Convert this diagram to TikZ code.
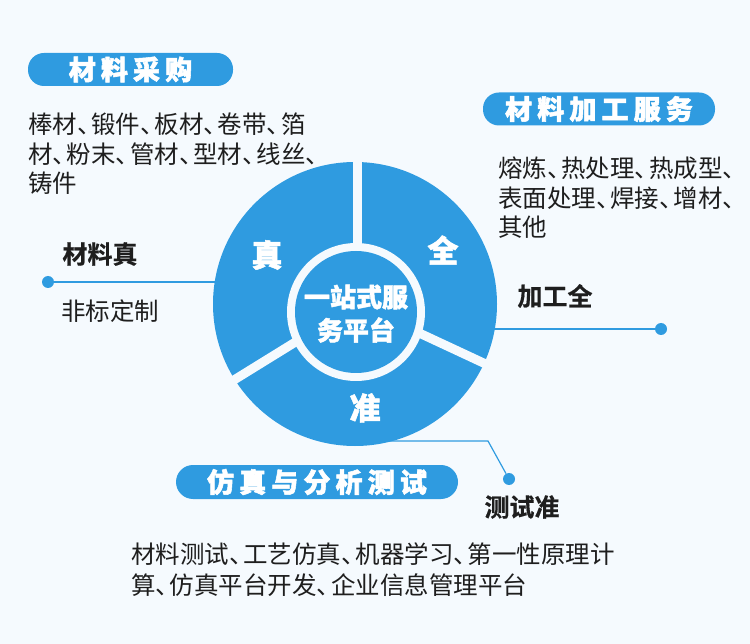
\documentclass[tikz,border=0pt]{standalone}
\usepackage{fontspec}
\newfontfamily\cjk{Noto Sans CJK SC}
\newfontfamily\cjkb[FakeBold=0.6]{Noto Sans CJK SC Bold}
\newfontfamily\cjkk[LetterSpace=19,FakeBold=2]{Noto Sans CJK SC Black}
\newfontfamily\cjkh[FakeBold=1.6]{Noto Sans CJK SC Black}
\definecolor{mblue}{HTML}{2F9BE0}
\definecolor{bgc}{HTML}{F5FAFE}
\definecolor{ink}{HTML}{1E1E1E}
\newcommand\dun{\makebox[0.58em][l]{、}}
\begin{document}
\begin{tikzpicture}[x=1pt,y=-1pt,
 body/.style={anchor=west,inner sep=0pt,font=\cjk\fontsize{24.5}{24.5}\selectfont,text=ink},
 lab/.style={inner sep=0pt,font=\cjkb\fontsize{25}{25}\selectfont,text=ink},
 pill/.style={fill=mblue,rounded corners=16pt,text=white,font=\cjkk\fontsize{27}{27}\selectfont,inner sep=0pt,minimum height=33pt},
 seg/.style={text=white,font=\cjkh\fontsize{31}{31}\selectfont,inner sep=0pt},
 ctr/.style={text=white,font=\cjkh\fontsize{26}{26}\selectfont,inner sep=0pt},
 dot/.style={circle,fill=mblue,inner sep=0pt,minimum size=12pt},
 conn/.style={draw=mblue,line width=1.2pt}]
\fill[bgc] (0,0) rectangle (750,644);
\useasboundingbox (0,0) rectangle (750,644);
\coordinate (c) at (355,304);
\coordinate (ci) at (356,312);
% dots and connectors
\node[dot] (dotL) at (48,282) {};
\node[dot] (dotR) at (661,329) {};
\node[dot] (dotB) at (509,479) {};
\coordinate (kB) at (488,441);
\draw[conn] (dotL) -- (dotL -| c);
\draw[conn] (dotR) -- (dotR -| c);
\draw[conn] (kB -| c) -- (kB) -- (dotB);
% ring
\node[circle,fill=mblue,minimum size=284pt,inner sep=0pt] (ring) at (c) {};
\begin{scope}
\clip (c) circle[radius=143];
\foreach \a in {-90,25,148.3} \draw[bgc,line width=9pt] (357,304) -- ++(\a:160);
\end{scope}
\node[circle,fill=bgc,minimum size=138pt,inner sep=0pt] (hub) at (ci) {};
\node[circle,fill=mblue,minimum size=122pt,inner sep=0pt] (core) at (ci) {};
\node[seg] (zhen) at (267,255) {真};
\node[seg] (quan) at (443,250) {全};
\node[seg] (zhun) at (365,408) {准};
\node[ctr] (c1) at (356,297) {一站式服};
\node[ctr] (c2) at (356,330) {务平台};
% pills
\node[pill,minimum width=205pt] (p1) at (130.5,69.5) {材料采购};
\node[pill,minimum width=232pt] (p2) at (599,109) {材料加工服务};
\node[pill,minimum width=282pt,minimum height=34pt,rounded corners=17pt] (p3) at (317,482) {仿真与分析测试};
% lists
\node[body] (l1) at (28,124) {棒材\dun 锻件\dun 板材\dun 卷带\dun 箔};
\node[body] (l2) at (28,154) {材\dun 粉末\dun 管材\dun 型材\dun 线丝\dun};
\node[body] (l3) at (28,183) {铸件};
\node[body] (r1) at (498,168) {熔炼\dun 热处理\dun 热成型\dun};
\node[body] (r2) at (498,198) {表面处理\dun 焊接\dun 增材\dun};
\node[body] (r3) at (498,227) {其他};
\node[body] (b1) at (131,554) {材料测试\dun 工艺仿真\dun 机器学习\dun 第一性原理计};
\node[body] (b2) at (131,585) {算\dun 仿真平台开发\dun 企业信息管理平台};
% labels
\node[lab] (tL) at (100,254) {材料真};
\node[body] (sL) at (61,311) {非标定制};
\node[lab] (tR) at (555,296) {加工全};
\node[lab] (tB) at (522,507) {测试准};
\end{tikzpicture}
\end{document}
